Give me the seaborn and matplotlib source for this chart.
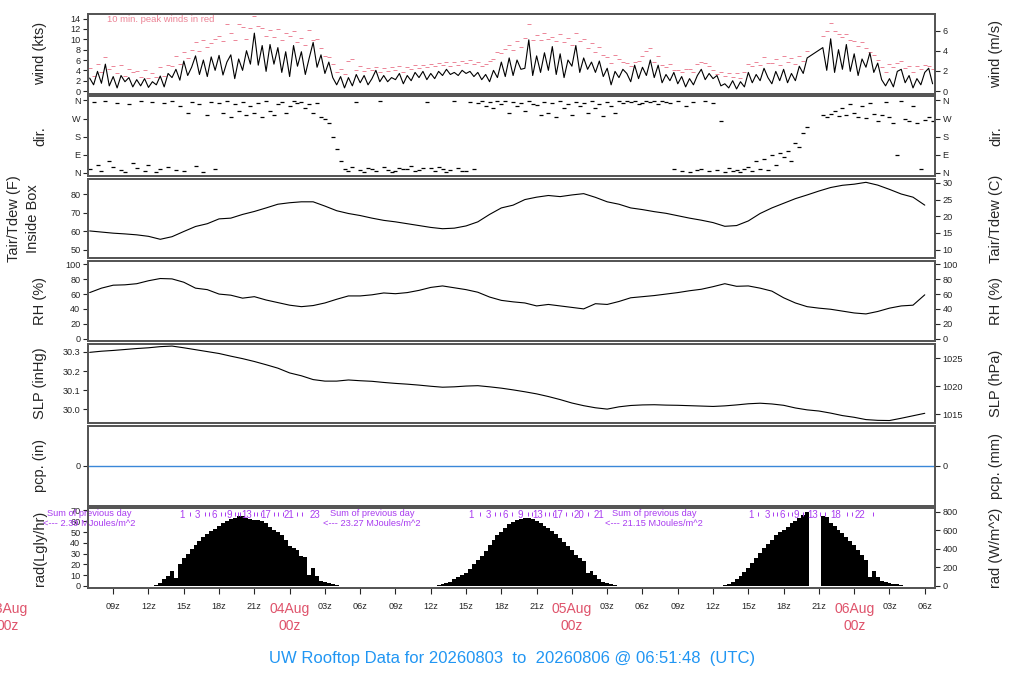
import numpy as np
import pandas as pd
import seaborn as sns
import matplotlib
matplotlib.use("Agg")
import matplotlib.pyplot as plt


# time axis: hours since 03Aug 00z
t_start = 6.863
t_end = 78.863

# 20-minute samples, 07z 03Aug .. 06:40z 06Aug (3 per hour)
wind_kts = [
    2.5, 1.2, 3.8, 1.5, 5.2, 1.0, 2.8, 0.6, 3.0, 1.8, 2.6, 0.8, 2.2, 1.0, 2.4, 0.7, 1.8, 1.2,
    2.9, 0.8, 3.4, 2.6, 4.2, 2.1, 5.8, 3.0, 4.6, 6.8, 3.2, 6.0, 2.8, 6.6, 4.0, 6.9, 3.1, 5.6,
    7.0, 2.4, 6.2, 4.0, 7.8, 5.2, 11.2, 5.0, 8.8, 3.8, 9.0, 5.2, 8.4, 3.6, 7.6, 2.8, 8.8, 4.8,
    7.6, 3.2, 6.4, 9.4, 4.6, 7.0, 3.4, 5.6, 2.6, 1.2, 2.8, 0.6, 2.6, 1.0, 3.2, 1.6, 3.0, 1.2,
    2.4, 4.0, 1.8, 3.0, 1.8, 2.6, 2.2, 3.4, 1.4, 3.0, 2.0, 3.6, 2.6, 3.8, 2.2, 3.4, 2.4, 3.8,
    3.0, 4.2, 3.2, 3.6, 3.0, 4.0, 3.4, 3.8, 2.8, 3.6, 2.2, 3.2, 1.8, 4.0, 2.6, 5.6, 2.8, 6.4,
    3.0, 6.0, 4.2, 4.4, 9.9, 3.0, 6.8, 3.6, 7.4, 4.0, 8.6, 3.2, 7.2, 2.6, 6.0, 4.8, 8.8, 3.6,
    6.4, 4.2, 5.6, 3.6, 5.8, 2.8, 4.4, 1.2, 3.8, 2.6, 4.2, 3.4, 1.8, 5.0, 2.4, 4.6, 3.0, 6.0,
    2.6, 5.0, 1.6, 3.2, 2.0, 3.6, 1.4, 2.8, 0.8, 2.4, 1.2, 3.0, 4.2, 2.2, 3.4, 2.4, 3.0, 1.0,
    1.4, 0.6, 2.0, 0.4, 1.8, 0.8, 3.6, 1.6, 3.2, 2.0, 4.4, 2.6, 1.4, 3.8, 2.0, 4.2, 1.6, 3.4,
    2.0, 4.8, 3.4, 6.4, None, None, None, 8.4, 4.0, 10.1, 3.6, 8.0, 4.2, 9.0, 3.8, 7.2, 3.0, 6.2,
    4.6, 7.4, 3.6, 5.4, 2.2, 1.0, 2.4, 0.8, 3.8, 4.2, 1.6, 3.0, 0.6, 2.4, 1.2, 3.6, 4.4, 1.4,
]

gust_kts = [
    4.4, 3.0, 5.2, 3.6, 6.5, 4.2, 4.8, 3.4, 5.0, 3.0, 4.2, 3.6, 3.8, 2.8, 4.0, 2.6, 3.4, 2.8,
    4.6, 3.0, 5.0, 4.8, 6.8, 5.2, 7.6, 6.4, 8.0, 9.4, 7.8, 9.8, 8.6, 9.2, 10.0, 10.6, 9.6, 12.9,
    11.2, 9.8, 13.0, 12.4, 10.0, 12.2, 14.5, 12.6, 12.2, 10.6, 11.8, 10.4, 12.0, 9.8, 11.2, 10.6, 11.6, 9.4,
    10.2, 9.0, 11.8, 9.8, 10.0, 8.4, 6.8, 6.6, 5.2, 3.6, 4.2, 3.2, 5.8, 6.2, 4.0, 4.8, 3.8, 4.4,
    4.0, 4.6, 3.6, 4.4, 3.8, 4.6, 4.0, 4.8, 3.6, 4.6, 4.2, 5.0, 4.4, 5.0, 4.6, 5.2, 4.8, 5.4,
    5.0, 5.6, 4.8, 5.6, 5.0, 5.8, 5.4, 6.0, 5.2, 5.6, 4.8, 5.2, 5.8, 6.2, 7.6, 7.4, 8.2, 9.0,
    8.0, 9.6, 8.6, 10.2, 13.0, 9.8, 10.8, 9.8, 11.2, 10.0, 10.4, 9.6, 11.0, 9.4, 10.2, 9.0, 11.2, 9.6,
    10.0, 8.4, 9.2, 7.6, 8.6, 7.0, 6.6, 5.4, 7.0, 6.2, 5.6, 5.4, 4.8, 5.6, 5.8, 6.8, 7.8, 8.4,
    5.6, 6.8, 5.0, 4.6, 5.2, 4.0, 4.0, 3.6, 4.2, 4.2, 3.6, 5.2, 5.6, 5.4, 4.8, 4.0, 3.2, 3.6,
    3.0, 3.4, 2.8, 3.4, 2.6, 3.6, 5.2, 4.8, 5.6, 5.0, 6.6, 5.4, 5.4, 6.2, 5.0, 6.8, 5.6, 6.4,
    5.2, 6.8, 5.8, 7.8, None, None, None, 10.6, 11.6, 13.2, 11.6, 11.0, 10.4, 11.0, 9.8, 9.6, 8.8, 9.4,
    8.4, 7.6, 7.0, 6.0, 4.6, 3.6, 5.2, 4.6, 5.4, 5.8, 4.4, 4.8, 3.6, 4.8, 4.2, 5.0, 4.8, 4.2,
]

# wind direction, degrees (0 = N at bottom, 360 = N at top)
wind_dir = [
    20, 350, 40, 10, 355, 60, 30, 345, 15, 5, 340, 50, 25, 355, 10, 40, 350, 5,
    20, 345, 30, 355, 15, 330, 10, 300, 350, 35, 340, 5, 290, 350, 20, 345, 300, 355,
    280, 340, 310, 350, 290, 330, 300, 345, 280, 355, 310, 290, 340, 350, 300, 330, 355, 345,
    350, 320, 340, 300, 345, 280, 270, 250, 180, 120, 60, 20, 10, 30, 350, 15, 5, 25,
    20, 10, 355, 30, 15, 5, 10, 25, 20, 20, 35, 10, 15, 25, 350, 25, 10, 30,
    20, 5, 15, 355, 25, 10, 10, 350, 20, 345, 355, 330, 350, 320, 355, 340, 355, 300,
    350, 330, 345, 310, 355, 340, 335, 290, 350, 300, 345, 280, 355, 320, 340, 290, 350, 330,
    345, 300, 355, 320, 340, 285, 350, 330, 300, 355, 345, 358, 350, 355, 340, 345, 355, 350,
    358, 340, 355, 350, 345, 20, 355, 10, 330, 5, 350, 15, 20, 355, 10, 345, 15, 260,
    5, 25, 10, 15, 5, 20, 30, 10, 60, 20, 70, 15, 90, 40, 100, 80, 110, 60,
    150, 130, 200, 230, None, None, None, 290, 280, 295, 310, 285, 320, 290, 340, 300, 280, 330,
    275, 345, 295, 260, 290, 350, 280, 250, 90, 355, 270, 260, 330, 250, 20, 265, 280, 260,
]

# radiation, Langley/hr
rad_lgly = [
    0, 0, 0, 0, 0, 0, 0, 0, 0, 0, 0, 0, 0, 0, 0, 0, 0.3, 0.6,
    3, 6, 9, 14, 7, 20, 26, 30, 34, 38, 42, 45, 48, 51, 53, 56, 58, 60,
    62, 63, 65, 64.5, 63, 62, 61.5, 61, 60, 58, 55, 52, 50, 47, 43, 37, 35, 33,
    28, 27, 10, 17, 9, 5, 4, 3, 2, 0.6, 0, 0, 0, 0, 0, 0, 0, 0,
    0, 0, 0, 0, 0, 0, 0, 0, 0, 0, 0, 0, 0, 0, 0, 0, 0.3, 0.8,
    1.5, 2.5, 4, 6, 8, 10, 12, 16, 20, 24, 28, 32, 38, 43, 47, 50, 54, 57,
    59, 61, 62.5, 63, 63, 62, 60, 58, 56, 54, 51, 48, 44, 41, 37, 33, 29, 26,
    23, 12, 14, 10, 6, 4, 3, 1.5, 1, 0.4, 0, 0, 0, 0, 0, 0, 0, 0,
    0, 0, 0, 0, 0, 0, 0, 0, 0, 0, 0, 0, 0, 0, 0, 0, 0, 0.4,
    1, 2, 3.4, 6, 9, 13, 17, 21, 26, 31, 35, 39, 43, 47, 50, 52, 55, 58,
    60, 63, 66, 68.5, 0, 0, 0, 65, 64, 58, 56, 52, 49, 45, 42, 38, 33, 29,
    24, 8, 14, 8, 5, 4, 3, 2, 1.5, 0.8, 0, 0, 0, 0, 0, 0, 0, 0,
]

# hourly values, 07z 03Aug .. 06z 06Aug
tair_f = [
    60.1, 59.5, 58.9, 58.5, 58.0, 57.2, 55.6, 57.0, 59.8, 62.5, 64.0, 66.6,
    67.0, 69.0, 70.6, 72.5, 74.5, 75.3, 75.8, 75.8, 73.5, 71.0, 69.5, 68.4,
    67.0, 65.8, 65.0, 64.0, 63.0, 62.0, 61.3, 61.6, 62.8, 65.0, 69.0, 72.5,
    74.0, 77.0, 78.3, 79.2, 78.6, 79.5, 80.2, 78.2, 75.8, 74.5, 72.5, 71.6,
    70.5, 69.6, 68.3, 67.0, 65.9, 64.6, 62.6, 63.0, 65.5, 69.5, 72.5, 75.0,
    77.5, 79.5, 81.6, 83.5, 84.7, 85.3, 86.3, 84.8, 82.5, 80.0, 78.3, 74.0,
]
rh_pct = [
    62, 68, 72, 72.5, 74, 78, 81, 80.5, 76, 68, 66, 60,
    58.5, 54.5, 56.5, 52, 48.5, 45, 43, 44.5, 48, 53, 57.5, 57.5,
    59, 61.5, 60.5, 62, 65, 69, 71, 68.5, 66, 62.5, 56, 51.5,
    49.5, 48, 44, 46, 44, 42, 40, 47, 46, 50, 55, 56.5,
    58, 60, 62, 64.5, 66.5, 70, 74, 70.5, 71, 68, 64, 55,
    48, 43, 41, 39.5, 37, 34.5, 33.2, 36.5, 41, 44, 45, 59,
]
slp_inhg = [
    30.298, 30.304, 30.308, 30.313, 30.318, 30.322, 30.328, 30.331, 30.322, 30.312, 30.302, 30.292,
    30.278, 30.265, 30.250, 30.233, 30.215, 30.190, 30.175, 30.155, 30.147, 30.147, 30.153, 30.149,
    30.146, 30.140, 30.135, 30.131, 30.126, 30.120, 30.115, 30.117, 30.121, 30.123, 30.117, 30.110,
    30.101, 30.091, 30.080, 30.066, 30.050, 30.032, 30.018, 30.007, 30.000, 30.012, 30.019, 30.022,
    30.023, 30.021, 30.020, 30.018, 30.016, 30.014, 30.017, 30.022, 30.028, 30.031, 30.027, 30.020,
    30.006, 29.996, 29.990, 29.979, 29.966, 29.957, 29.945, 29.941, 29.940, 29.952, 29.965, 29.978,
]
pcp_in = [0.0, 0.0]

# cumulative MJ/m^2 marks at top of the radiation panel (hours since 03Aug 00z)
mj_label_txt = [
    ["1", "3", "6", "9", "13", "17", "21", "23"],
    ["1", "3", "6", "9", "13", "17", "20", "21"],
    ["1", "3", "6", "9", "13", "18", "22"],
]
mj_label_hr = [
    [14.89, 16.17, 17.62, 18.89, 20.34, 21.96, 23.91, 26.13],
    [39.4, 40.9, 42.3, 43.6, 45.1, 46.8, 48.6, 50.3],
    [63.2, 64.6, 65.9, 67.1, 68.5, 70.4, 72.5],
]
mj_mark_hr = [
    15.57, 16.77, 17.11, 18.13, 18.47, 19.32, 19.57, 19.74, 20.94, 21.19, 21.53, 22.64, 22.98, 23.40, 24.60, 25.02,
    40.17, 41.45, 41.87, 42.89, 44.26, 44.6, 45.7, 46.04, 46.38, 47.49, 48.0, 49.36,
    63.83, 65.1, 65.45, 66.38, 66.72, 67.66, 69.1, 69.53, 71.4, 71.83, 73.62,
]
sum_text_hr = [6.98, 31.0, 55.0]
sum_text_val = ["2.39", "23.27", "21.15"]

day_names = ["03Aug", "04Aug", "05Aug", "06Aug"]
day_hr = [0, 24, 48, 72]

title = "UW Rooftop Data for 20260803  to  20260806 @ 06:51:48  (UTC)"

RED = "#DF536B"
PINK = "#EC8597"
PURPLE = "#A93CF0"
BLUE = "#2196F3"

t20 = 7 + np.arange(len(wind_kts)) / 3.0
t_hr = np.arange(7, 7 + len(tair_f))

sns.set_style("ticks")
plt.rcParams['font.family'] = ['Liberation Sans', 'DejaVu Sans']
plt.rcParams.update({
    'axes.edgecolor': '#555555', 'axes.linewidth': 1.3,
    'xtick.labelsize': 6.6, 'ytick.labelsize': 6.6,
    'xtick.major.size': 4, 'ytick.major.size': 3.5,
    'xtick.major.width': 0.8, 'ytick.major.width': 0.8,
    'ytick.major.pad': 2,
})

fig, axes = plt.subplots(7, 1, figsize=(10.24, 7), dpi=100, sharex=True,
                         gridspec_kw=dict(hspace=0.035))
fig.subplots_adjust(left=0.086, right=0.913, top=0.98, bottom=0.16)


def right_axis(ax, lims, ticks, labels, name):
    r = ax.twinx()
    r.set_ylim(lims)
    r.set_yticks(ticks)
    r.set_yticklabels(labels)
    r.set_ylabel(name, fontsize=10.5)
    r.yaxis.set_label_coords(1.064, 0.5)
    for s in r.spines.values():
        s.set_color('#555555')
    return r


def left_label(ax, name, xpos=-0.048, ls=1.2):
    ax.set_ylabel(name, fontsize=10.5, linespacing=ls)
    ax.yaxis.set_label_coords(xpos, 0.5)
    ax.set_xlabel("")


# wind
ax = axes[0]
wdf = pd.DataFrame({'t': t20, 'kts': pd.to_numeric(pd.Series(wind_kts), errors='coerce')}).dropna()
sns.lineplot(data=wdf, x='t', y='kts', ax=ax, color='black', linewidth=0.8)
gdf = pd.DataFrame({'t': t20, 'g': pd.to_numeric(pd.Series(gust_kts), errors='coerce')}).dropna()
sns.scatterplot(data=gdf, x='t', y='g', ax=ax, marker='_', color=PINK, s=8, linewidth=0.7)
ax.set_ylim(-0.5, 14.9)
ax.set_yticks(range(0, 15, 2))
left_label(ax, "wind (kts)")
ax.text(0.022, 0.93, "10 min. peak winds in red", transform=ax.transAxes,
        fontsize=6.8, color=PINK, va='center', ha='left')
lo, hi = ax.get_ylim()
right_axis(ax, (lo * 0.514444, hi * 0.514444), [0, 2, 4, 6], ["0", "2", "4", "6"], "wind (m/s)")

# direction
ax = axes[1]
ddf = pd.DataFrame({'t': t20, 'd': pd.to_numeric(pd.Series(wind_dir), errors='coerce')}).dropna()
sns.scatterplot(data=ddf, x='t', y='d', ax=ax, marker='_', color='black', s=8, linewidth=0.9)
ax.set_ylim(-15, 380)
ax.set_yticks([0, 90, 180, 270, 360])
ax.set_yticklabels(["N", "E", "S", "W", "N"])
left_label(ax, "dir.")
right_axis(ax, (-15, 380), [0, 90, 180, 270, 360], ["N", "E", "S", "W", "N"], "dir.")

# temperature
ax = axes[2]
sns.lineplot(x=t_hr, y=tair_f, ax=ax, color='black', linewidth=0.8)
ax.set_ylim(45.3, 88.2)
ax.set_yticks([50, 60, 70, 80])
left_label(ax, "Tair/Tdew (F)\nInside Box", xpos=-0.057, ls=1.45)
lo, hi = ax.get_ylim()
right_axis(ax, ((lo - 32) * 5 / 9, (hi - 32) * 5 / 9), [10, 15, 20, 25, 30],
           ["10", "15", "20", "25", "30"], "Tair/Tdew (C)")

# relative humidity
ax = axes[3]
sns.lineplot(x=t_hr, y=rh_pct, ax=ax, color='black', linewidth=0.8)
ax.set_ylim(-3.1, 104.4)
ax.set_yticks(range(0, 101, 20))
left_label(ax, "RH (%)")
right_axis(ax, (-3.1, 104.4), list(range(0, 101, 20)), [str(v) for v in range(0, 101, 20)], "RH (%)")

# sea level pressure
ax = axes[4]
sns.lineplot(x=t_hr, y=slp_inhg, ax=ax, color='black', linewidth=0.8)
ax.set_ylim(29.926, 30.344)
ax.set_yticks([30.0, 30.1, 30.2, 30.3])
ax.set_yticklabels(["30.0", "30.1", "30.2", "30.3"])
left_label(ax, "SLP (inHg)")
lo, hi = ax.get_ylim()
right_axis(ax, (lo / 0.0295300, hi / 0.0295300), [1015, 1020, 1025], ["1015", "1020", "1025"], "SLP (hPa)")

# precipitation
ax = axes[5]
sns.lineplot(x=[t_start, t_end], y=pcp_in, ax=ax, color='#3A87D8', linewidth=1.0)
ax.set_ylim(-1, 1)
ax.set_yticks([0])
left_label(ax, "pcp. (in)")
right_axis(ax, (-1, 1), [0], ["0"], "pcp. (mm)")

# radiation
ax = axes[6]
ax.bar(t20, rad_lgly, width=1 / 3.0, color='black', linewidth=0)
ax.set_ylim(-1.9, 71.9)
ax.set_yticks(range(0, 71, 10))
left_label(ax, "rad(Lgly/hr)")
lo, hi = ax.get_ylim()
right_axis(ax, (lo * 11.622, hi * 11.622), [0, 200, 400, 600, 800],
           ["0", "200", "400", "600", "800"], "rad (W/m^2)")

trans = ax.get_xaxis_transform()
for txts, hrs in zip(mj_label_txt, mj_label_hr):
    for s, h in zip(txts, hrs):
        ax.text(h, 0.915, s, transform=trans, fontsize=7, color=PURPLE, ha='center', va='center')
ax.vlines(mj_mark_hr, 0.905, 0.95, transform=trans, color=PURPLE, linewidth=0.7)
for h, v in zip(sum_text_hr, sum_text_val):
    ax.text(h, 0.99, "Sum of previous day\n<--- " + v + " MJoules/m^2", transform=trans,
            fontsize=6.7, color=PURPLE, ha='center', va='top', linespacing=1.15, clip_on=False)

# shared x axis
for a in axes[:-1]:
    a.tick_params(axis='x', bottom=False)
ax.set_xlim(t_start, t_end)
xt = np.arange(9, 79, 3)
ax.set_xticks(xt)
ax.set_xticklabels(["" if h % 24 == 0 else "%02dz" % (h % 24) for h in xt])
ax.tick_params(axis='x', pad=6)
for name, h in zip(day_names, day_hr):
    ax.text(h, -0.18, name + "\n00z", transform=trans, fontsize=10, color=RED,
            ha='center', va='top', linespacing=1.25, clip_on=False)

fig.text(0.5, 1 - 659 / 700, title, ha='center', va='center', fontsize=12, color=BLUE)

fig.savefig("out.png", dpi=100)
